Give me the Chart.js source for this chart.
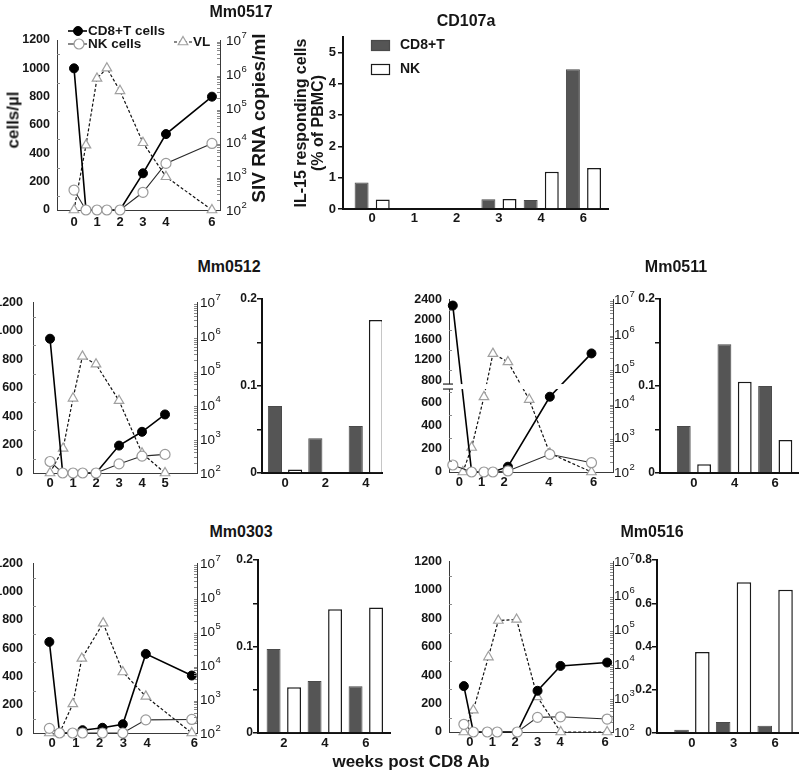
<!DOCTYPE html>
<html>
<head>
<meta charset="utf-8">
<title>CD8 depletion panels</title>
<script src="https://cdn.jsdelivr.net/npm/chart.js@4.4.1/dist/chart.umd.min.js"></script>
<style>
  html, body { margin:0; padding:0; background:#fff; }
  #fig { position:relative; width:800px; height:771px; overflow:hidden; background:#fff;
         font-family:'Liberation Sans', Arial, Helvetica, sans-serif; color:#161616; }
  #fig canvas { position:absolute; }
  .txt { position:absolute; white-space:nowrap; font-weight:bold; line-height:1; transform:translate(-50%,-50%); }
  .rot { transform:translate(-50%,-50%) rotate(-90deg); text-align:center; }
</style>
</head>
<body>
<div id="fig">
  <canvas id="c0517"></canvas>
  <canvas id="cCD107a"></canvas>
  <canvas id="c0512"></canvas>
  <canvas id="c0512b"></canvas>
  <canvas id="c0511"></canvas>
  <canvas id="c0511b"></canvas>
  <canvas id="c0303"></canvas>
  <canvas id="c0303b"></canvas>
  <canvas id="c0516"></canvas>
  <canvas id="c0516b"></canvas>

  <div class="txt" style="left:241px;top:12px;font-size:16px;">Mm0517</div>
  <div class="txt" style="left:466px;top:21px;font-size:16px;">CD107a</div>
  <div class="txt rot" style="left:13px;top:120px;font-size:17px;">cells/µl</div>
  <div class="txt rot" style="left:258px;top:118px;font-size:19px;">SIV RNA copies/ml</div>
  <div class="txt rot" style="left:309px;top:123px;font-size:16px;line-height:17px;">IL-15 responding cells<br>(% of PBMC)</div>
  <div class="txt" style="left:229px;top:267px;font-size:16px;">Mm0512</div>
  <div class="txt" style="left:676px;top:267px;font-size:16px;">Mm0511</div>
  <div class="txt" style="left:241px;top:532px;font-size:16px;">Mm0303</div>
  <div class="txt" style="left:652px;top:532px;font-size:16px;">Mm0516</div>
  <div class="txt" style="left:411px;top:761px;font-size:17px;">weeks post CD8 Ab</div>
</div>
<script>
// ===================== DATA =====================
// Mm0517 (cells/µl and SIV RNA copies/ml vs weeks)
const m0517Weeks   = [0, 0.52, 1.0, 1.43, 2, 3, 4, 6];
const m0517CD8     = [1000, 0, 0, 0, 0, 259, 536, 800];
const m0517NK      = [141, 0, 0, 0, 0, 125, 329, 470];
const m0517VLWeeks = [0, 0.52, 1.0, 1.43, 2, 3, 4, 6];
const m0517VL      = [100, 8100, 740000, 1480000, 320000, 9500, 950, 100];
const m0517XTicks  = [0, 1, 2, 3, 4, 6];

// CD107a, IL-15 responding cells (% of PBMC), Mm0517
const cd107aWeeks = ['0', '1', '2', '3', '4', '6'];
const cd107aCD8   = [0.85, 0.03, 0.02, 0.31, 0.29, 4.47];
const cd107aNK    = [0.30, 0, 0, 0.32, 1.19, 1.31];

// Mm0512
const m0512Weeks   = [0, 0.55, 1, 1.42, 2, 3, 4, 5];
const m0512CD8     = [945, 0, 0, 0, 0, 193, 290, 412];
const m0512NK      = [81, 0, 0, 0, 0, 64, 119, 131];
const m0512VLWeeks = [0, 0.57, 1, 1.41, 2, 3, 4, 5];
const m0512VL      = [100, 525, 15500, 263000, 155000, 13200, 380, 100];
const m0512XTicks  = [0, 1, 2, 3, 4, 5];
const m0512BarWeeks = ['0', '2', '4'];
const m0512BarCD8   = [0.077, 0.040, 0.054];
const m0512BarNK    = [0.004, 0.001, 0.176];

// Mm0511 (broken left axis)
const m0511Weeks   = [-0.29, 0.55, 1.1, 1.5, 2.17, 4.04, 5.9];
const m0511CD8     = [2280, 0, 0, 0, 46, 655, 1329];
const m0511NK      = [61, 0, 0, 0, 9, 154, 81];
const m0511VLWeeks = [0.16, 0.55, 1.1, 1.5, 2.17, 3.12, 4.04, 5.9];
const m0511VL      = [100, 513, 15000, 270000, 155000, 12600, 347, 100];
const m0511XTicks  = [0, 1, 2, 4, 6];
const m0511YTicks  = [0, 200, 400, 600, 800, 1200, 1600, 2000, 2400];
const m0511BarWeeks = ['0', '4', '6'];
const m0511BarCD8   = [0.054, 0.148, 0.100];
const m0511BarNK    = [0.010, 0.105, 0.038];

// Mm0303
const m0303Weeks   = [-0.12, 0.31, 0.86, 1.28, 2.12, 2.98, 3.95, 5.89];
const m0303CD8     = [645, 0, 0, 20, 37, 62, 560, 407];
const m0303NK      = [33, 0, 0, 0, 0, 0, 93, 96];
const m0303VLWeeks = [-0.12, 0.31, 0.87, 1.25, 2.15, 2.98, 3.95, 5.89];
const m0303VL      = [100, 100, 720, 15800, 174000, 6300, 1200, 100];
const m0303XTicks  = [0, 1, 2, 3, 4, 6];
const m0303BarWeeks = ['2', '4', '6'];
const m0303BarCD8   = [0.097, 0.060, 0.054];
const m0303BarNK    = [0.053, 0.143, 0.145];

// Mm0516
const m0516Weeks   = [-0.27, 0.15, 0.77, 1.21, 2.1, 3.0, 4.02, 6.09];
const m0516CD8     = [323, 0, 0, 0, 0, 290, 465, 489];
const m0516NK      = [54, 0, 0, 0, 0, 103, 107, 91];
const m0516VLWeeks = [-0.27, 0.15, 0.82, 1.26, 2.07, 2.99, 4.03, 6.09];
const m0516VL      = [100, 436, 15800, 186000, 200000, 1070, 100, 100];
const m0516XTicks  = [0, 1, 2, 3, 4, 6];
const m0516BarWeeks = ['0', '3', '6'];
const m0516BarCD8   = [0.015, 0.051, 0.034];
const m0516BarNK    = [0.375, 0.697, 0.662];

const cellTicks = [0, 200, 400, 600, 800, 1000, 1200];
const barTicksSmall = [0, 0.05, 0.1, 0.15, 0.2];
const barLabelsSmall = [0, 0.1, 0.2];

// ===================== LAYOUT (plot areas in page px) =====================
const layout = {
  c0517:   {l:57,  t:40,  r:220, b:210, L:57, T:22, R:38, B:24, yPad:7,  xPad:5, logGap:6},
  cCD107a: {l:343, t:37,  r:608, b:209, L:40, T:31, R:12, B:24, xPad:2, yPad:2, yFont:13},
  c0512:   {l:33,  t:299, r:197, b:473, L:45, T:14, R:40, B:24, yPad:10, xPad:3, logGap:3},
  c0512b:  {l:262, t:299, r:382, b:473, L:30, T:14, R:10, B:24, xPad:3, yPad:0, yFont:12},
  c0511:   {l:449, t:299, r:613, b:472, L:45, T:14, R:40, B:24, yPad:7,  xPad:3, logGap:1},
  c0511b:  {l:660, t:299, r:798, b:473, L:30, T:14, R:2,  B:24, xPad:3, yPad:0, yFont:12},
  c0303:   {l:33,  t:560, r:197, b:733, L:45, T:14, R:40, B:24, yPad:10, xPad:3, logGap:3},
  c0303b:  {l:258, t:560, r:390, b:733, L:30, T:14, R:10, B:24, xPad:3, yPad:0, yFont:12},
  c0516:   {l:449, t:561, r:613, b:732, L:45, T:14, R:40, B:24, yPad:7,  xPad:3, logGap:1},
  c0516b:  {l:657, t:560, r:798, b:733, L:30, T:14, R:2,  B:24, xPad:3, yPad:0, yFont:12}
};

const FONT = "'Liberation Sans', Arial, Helvetica, sans-serif";
const INK = '#161616';
const AXIS = '#3a3a3a';
Chart.defaults.font.family = FONT;
Chart.defaults.color = INK;

// ----- broken linear scale (for Mm0511) -----
const LinearScale = Chart.registry.getScale('linear');
class BrokenLinearScale extends LinearScale {
  _frac(v) {
    const b = this.options.breakValue, r = this.options.breakFraction;
    if (v <= b) return (v - this.min) / (b - this.min) * r;
    return r + (v - b) / (this.max - b) * (1 - r);
  }
  getPixelForValue(v) { return this.getPixelForDecimal(this._frac(v)); }
  getValueForPixel(p) {
    const d = this.getDecimalForPixel(p), b = this.options.breakValue, r = this.options.breakFraction;
    return d <= r ? this.min + d / r * (b - this.min) : b + (d - r) / (1 - r) * (this.max - b);
  }
}
BrokenLinearScale.id = 'brokenLinear';
Chart.register(BrokenLinearScale);

function place(id) {
  const g = layout[id];
  const c = document.getElementById(id);
  const x = g.l - g.L, y = g.t - g.T, w = g.r + g.R - x, h = g.b + g.B - y;
  c.width = w; c.height = h;
  Object.assign(c.style, {left: x + 'px', top: y + 'px', width: w + 'px', height: h + 'px'});
  return {c, g, x, y};
}
function seg(ctx, x1, y1, x2, y2) { ctx.beginPath(); ctx.moveTo(x1, y1); ctx.lineTo(x2, y2); ctx.stroke(); }
const pts = (xs, ys) => xs.map((x, i) => ({x, y: ys[i]}));

// ----- plugins -----
function axisDecor(minorLeft, logGap) {
  return {
    id: 'axisDecor',
    afterDraw(chart) {
      const ctx = chart.ctx, a = chart.chartArea, y = chart.scales.y, y2 = chart.scales.y2;
      ctx.save();
      ctx.strokeStyle = '#8a8a8a'; ctx.lineWidth = 1;
      minorLeft.forEach(v => { const p = Math.round(y.getPixelForValue(v)) + 0.5; seg(ctx, a.left, p, a.left + 3, p); });
      for (let e = 2; e < 7; e++) for (let k = 2; k <= 9; k++) {
        const p = Math.round(y2.getPixelForValue(k * Math.pow(10, e))) + 0.5;
        seg(ctx, a.right - 3, p, a.right, p);
      }
      ctx.fillStyle = INK; ctx.textBaseline = 'middle'; ctx.textAlign = 'left';
      for (let e = 2; e <= 7; e++) {
        const p = y2.getPixelForValue(Math.pow(10, e));
        ctx.font = '13.5px ' + FONT; ctx.fillText('10', a.right + logGap, p + 1);
        const w = ctx.measureText('10').width;
        ctx.font = '9.5px ' + FONT; ctx.fillText(String(e), a.right + logGap + w + 0.5, p - 5);
      }
      ctx.restore();
    }
  };
}
const axisBreak = {
  id: 'axisBreak',
  afterDraw(chart) {
    const ctx = chart.ctx, a = chart.chartArea, y = chart.scales.y;
    const p = y.getPixelForValue(y.options.breakValue);
    ctx.save();
    ctx.fillStyle = '#fff';
    ctx.fillRect(a.left - 2, p + 4, a.right - a.left - 2, 5);
    ctx.strokeStyle = '#222'; ctx.lineWidth = 1.2;
    seg(ctx, a.left - 6, p + 4, a.left + 4, p + 4);
    seg(ctx, a.left - 6, p + 9, a.left + 4, p + 9);
    ctx.restore();
  }
};
function lineLegend(off) {
  return {
    id: 'lineLegend',
    afterDraw(chart) {
      const ctx = chart.ctx, X = v => v - off.x, Y = v => v - off.y;
      const ds = chart.data.datasets;
      const nk = ds[0], cd8 = ds[1], vl = ds[2];
      const P = Chart.helpers.drawPoint;
      ctx.save();
      ctx.strokeStyle = cd8.borderColor; ctx.lineWidth = cd8.borderWidth;
      seg(ctx, X(68), Y(31), X(87), Y(31));
      ctx.fillStyle = cd8.pointBackgroundColor; ctx.strokeStyle = cd8.pointBorderColor; ctx.lineWidth = 1;
      P(ctx, {pointStyle: 'circle', radius: 4.5, borderWidth: 1, rotation: 0}, X(78), Y(31));
      ctx.strokeStyle = nk.borderColor; ctx.lineWidth = nk.borderWidth;
      seg(ctx, X(68), Y(44), X(87), Y(44));
      ctx.fillStyle = nk.pointBackgroundColor; ctx.strokeStyle = nk.pointBorderColor; ctx.lineWidth = nk.pointBorderWidth;
      P(ctx, {pointStyle: 'circle', radius: 5, borderWidth: 1.2, rotation: 0}, X(79), Y(44));
      ctx.strokeStyle = vl.borderColor; ctx.lineWidth = vl.borderWidth; ctx.setLineDash(vl.borderDash);
      seg(ctx, X(174), Y(42), X(192), Y(42));
      ctx.setLineDash([]);
      ctx.fillStyle = vl.pointBackgroundColor; ctx.strokeStyle = vl.pointBorderColor; ctx.lineWidth = vl.pointBorderWidth;
      P(ctx, {pointStyle: 'triangle', radius: 5.5, borderWidth: 1.2, rotation: 0}, X(183), Y(42));
      ctx.fillStyle = INK; ctx.textBaseline = 'middle'; ctx.textAlign = 'left';
      ctx.font = 'bold 13.5px ' + FONT;
      ctx.fillText(cd8.label, X(88), Y(31));
      ctx.fillText(nk.label, X(88), Y(44));
      ctx.fillText(vl.label, X(193), Y(42));
      ctx.restore();
    }
  };
}
function barLegend(off) {
  return {
    id: 'barLegend',
    afterDraw(chart) {
      const ctx = chart.ctx, X = v => v - off.x, Y = v => v - off.y;
      const ds = chart.data.datasets;
      ctx.save();
      [[ds[0], 40], [ds[1], 64]].forEach(([d, yy]) => {
        ctx.fillStyle = d.backgroundColor; ctx.fillRect(X(371), Y(yy), 18, 10);
        ctx.strokeStyle = d.borderColor; ctx.lineWidth = 1.2; ctx.strokeRect(X(371) + 0.5, Y(yy) + 0.5, 18, 10);
        ctx.fillStyle = INK; ctx.font = 'bold 14px ' + FONT; ctx.textBaseline = 'middle'; ctx.textAlign = 'left';
        ctx.fillText(d.label, X(400), Y(yy + 5));
      });
      ctx.restore();
    }
  };
}

// ----- chart builders -----
function makeLine(id, s) {
  const pl = place(id), g = pl.g;
  const plugins = [axisDecor(s.minorLeft, g.logGap)];
  if (s.broken) plugins.push(axisBreak);
  if (s.legend) plugins.push(lineLegend(pl));
  const yScale = {
    type: s.broken ? 'brokenLinear' : 'linear', position: 'left', min: 0, max: s.yMax,
    afterBuildTicks: sc => { sc.ticks = s.yTicks.map(v => ({value: v})); },
    afterFit: sc => { sc.width = g.L; },
    grid: {display: false, drawTicks: false, tickLength: 0}, border: {display: true, color: AXIS, width: 1},
    ticks: {font: {size: 12.5, weight: 'bold'}, padding: g.yPad, color: INK, callback: v => String(v)}
  };
  if (s.broken) { yScale.breakValue = 800; yScale.breakFraction = 0.533; }
  return new Chart(pl.c, {
    type: 'line',
    data: {datasets: [
      {label: 'NK cells', data: pts(s.weeks, s.nk), yAxisID: 'y', order: 0, borderColor: '#2a2a2a', borderWidth: 1.1,
       pointRadius: 5, pointBackgroundColor: '#fff', pointBorderColor: '#9a9a9a', pointBorderWidth: 1.2, clip: false},
      {label: 'CD8+T cells', data: pts(s.weeks, s.cd8), yAxisID: 'y', order: 1, borderColor: '#000', borderWidth: 1.6,
       pointRadius: 4.5, pointBackgroundColor: '#000', pointBorderColor: '#000', pointBorderWidth: 1, clip: false},
      {label: 'VL', data: pts(s.vlWeeks, s.vl), yAxisID: 'y2', order: 2, borderColor: '#111', borderWidth: 1.2, borderDash: [3, 2],
       pointStyle: 'triangle', pointRadius: 5.5, pointBackgroundColor: '#fff', pointBorderColor: '#a0a0a0', pointBorderWidth: 1.2, clip: false}
    ]},
    options: {
      responsive: false, animation: false, events: [],
      layout: {padding: {top: g.T, left: 0, right: 0, bottom: 0}},
      plugins: {legend: {display: false}, tooltip: {enabled: false}, title: {display: false}},
      scales: {
        x: {type: 'linear', min: s.xMin, max: s.xMax, bounds: 'data',
            afterBuildTicks: sc => { sc.ticks = s.xTicks.map(v => ({value: v})); },
            afterFit: sc => { sc.height = g.B; },
            grid: {display: false, drawTicks: false, tickLength: 0}, border: {display: true, color: AXIS, width: 1},
            ticks: {font: {size: 13, weight: 'bold'}, padding: g.xPad, color: INK, maxRotation: 0, autoSkip: false, callback: v => String(v)}},
        y: yScale,
        y2: {type: 'logarithmic', position: 'right', min: 100, max: 1e7,
             afterFit: sc => { sc.width = g.R; },
             grid: {display: false, drawTicks: false, tickLength: 0}, border: {display: true, color: AXIS, width: 1}, ticks: {display: false}}
      }
    },
    plugins
  });
}

function makeBar(id, s) {
  const pl = place(id), g = pl.g;
  const plugins = [];
  if (s.legend) plugins.push(barLegend(pl));
  const idx = s.cats.map((c, i) => i);
  return new Chart(pl.c, {
    type: 'bar',
    data: {datasets: [
      {label: 'CD8+T', data: pts(idx, s.cd8), backgroundColor: '#555555', borderColor: '#4a4a4a', borderWidth: 1,
       categoryPercentage: 1, barPercentage: s.bp},
      {label: 'NK', data: pts(idx, s.nk), backgroundColor: '#ffffff', borderColor: '#1a1a1a', borderWidth: 1.5,
       categoryPercentage: 1, barPercentage: s.bp}
    ]},
    options: {
      responsive: false, animation: false, events: [],
      layout: {padding: {top: g.T, left: 0, right: g.R, bottom: 0}},
      plugins: {legend: {display: false}, tooltip: {enabled: false}},
      scales: {
        x: {type: 'linear', offset: false, min: s.xMin, max: s.xMax, bounds: 'data',
            afterBuildTicks: sc => { sc.ticks = idx.map(v => ({value: v})); },
            afterFit: sc => { sc.height = g.B; },
            grid: {display: false, offset: false, drawTicks: false, tickLength: 0}, border: {display: true, color: '#111', width: 2},
            ticks: {font: {size: 13, weight: 'bold'}, padding: g.xPad, color: INK, maxRotation: 0, autoSkip: false,
                    callback: v => (s.cats[v] !== undefined ? s.cats[v] : '')}},
        y: {type: 'linear', min: 0, max: s.yMax, bounds: 'data',
            afterBuildTicks: sc => { sc.ticks = s.yTicks.map(v => ({value: v})); },
            afterFit: sc => { sc.width = g.L; },
            grid: {display: true, drawOnChartArea: false, drawTicks: true, tickLength: 5, color: '#111', lineWidth: 1.5},
            border: {display: true, color: '#111', width: 2},
            ticks: {font: {size: g.yFont, weight: 'bold'}, padding: g.yPad, color: INK,
                    callback: v => (s.yLabels.includes(v) ? String(v) : '')}}
      }
    },
    plugins
  });
}

const steps = (a, b, st) => { const r = []; for (let v = a; v <= b + 1e-9; v += st) r.push(v); return r; };
const minorStd = steps(100, 1100, 200);
const minorBroken = [100, 300, 500, 700, 1000, 1400, 1800, 2200];

// ===================== CHARTS =====================
makeLine('c0517', {weeks: m0517Weeks, cd8: m0517CD8, nk: m0517NK, vlWeeks: m0517VLWeeks, vl: m0517VL,
  xTicks: m0517XTicks, xMin: -0.74, xMax: 6.35, yMax: 1200, yTicks: cellTicks, minorLeft: minorStd, legend: true});
makeBar('cCD107a', {cats: cd107aWeeks, cd8: cd107aCD8, nk: cd107aNK, xMin: -0.69, xMax: 5.58, yMax: 5.5,
  yTicks: [0, 1, 2, 3, 4, 5], yLabels: [0, 1, 2, 3, 4, 5], bp: 0.66, legend: true});

makeLine('c0512', {weeks: m0512Weeks, cd8: m0512CD8, nk: m0512NK, vlWeeks: m0512VLWeeks, vl: m0512VL,
  xTicks: m0512XTicks, xMin: -0.74, xMax: 6.39, yMax: 1200, yTicks: cellTicks, minorLeft: minorStd});
makeBar('c0512b', {cats: m0512BarWeeks, cd8: m0512BarCD8, nk: m0512BarNK, xMin: -0.57, xMax: 2.4, yMax: 0.2,
  yTicks: barTicksSmall, yLabels: barLabelsSmall, bp: 0.7});

makeLine('c0511', {weeks: m0511Weeks, cd8: m0511CD8, nk: m0511NK, vlWeeks: m0511VLWeeks, vl: m0511VL,
  xTicks: m0511XTicks, xMin: -0.46, xMax: 6.86, yMax: 2400, yTicks: m0511YTicks, minorLeft: minorBroken, broken: true});
makeBar('c0511b', {cats: m0511BarWeeks, cd8: m0511BarCD8, nk: m0511BarNK, xMin: -0.835, xMax: 2.56, yMax: 0.2,
  yTicks: barTicksSmall, yLabels: barLabelsSmall, bp: 0.68});

makeLine('c0303', {weeks: m0303Weeks, cd8: m0303CD8, nk: m0303NK, vlWeeks: m0303VLWeeks, vl: m0303VL,
  xTicks: m0303XTicks, xMin: -0.81, xMax: 6.11, yMax: 1200, yTicks: cellTicks, minorLeft: minorStd});
makeBar('c0303b', {cats: m0303BarWeeks, cd8: m0303BarCD8, nk: m0303BarNK, xMin: -0.63, xMax: 2.59, yMax: 0.2,
  yTicks: barTicksSmall, yLabels: barLabelsSmall, bp: 0.68});

makeLine('c0516', {weeks: m0516Weeks, cd8: m0516CD8, nk: m0516NK, vlWeeks: m0516VLWeeks, vl: m0516VL,
  xTicks: m0516XTicks, xMin: -0.93, xMax: 6.35, yMax: 1200, yTicks: cellTicks, minorLeft: minorStd});
makeBar('c0516b', {cats: m0516BarWeeks, cd8: m0516BarCD8, nk: m0516BarNK, xMin: -0.84, xMax: 2.55, yMax: 0.8,
  yTicks: [0, 0.2, 0.4, 0.6, 0.8], yLabels: [0, 0.2, 0.4, 0.6, 0.8], bp: 0.7});
</script>
</body>
</html>
